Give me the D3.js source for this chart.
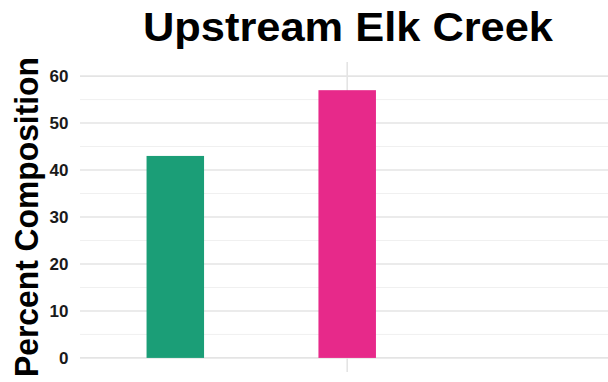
<!DOCTYPE html>
<html>
<head>
<meta charset="utf-8">
<script src="https://cdn.jsdelivr.net/npm/d3@7"></script>
<style>
  html, body { margin: 0; padding: 0; background: #fff; }
  svg { display: block; }
  text { font-family: "Liberation Sans", Arial, sans-serif; }
</style>
</head>
<body>
<svg id="chart" width="608" height="382"></svg>
<script>
// Composition of the two groups at the upstream site
const categories = ["Group A", "Group B"];
const values = [43, 57];
const colors = ["#1b9e77", "#e7298a"];
const yTicks = [0, 10, 20, 30, 40, 50, 60];
const yMinor = [5, 15, 25, 35, 45, 55];
const titleText = "Upstream Elk Creek";
const yLabel = "Percent Composition";

const W = 608, H = 382;
const panel = { left: 80, right: 608, top: 62, bottom: 372 };

const svg = d3.select("#chart");

const y = d3.scaleLinear()
  .domain([-3, 63])
  .range([panel.bottom, panel.top]);

const x = d3.scalePoint()
  .domain(categories)
  .range([175.3, 347.2]);

const barWidth = 57.5;

// minor grid
svg.append("g")
  .selectAll("line")
  .data(yMinor)
  .join("line")
  .attr("x1", panel.left).attr("x2", panel.right)
  .attr("y1", d => y(d)).attr("y2", d => y(d))
  .attr("stroke", "#f0f0f0")
  .attr("stroke-width", 1);

// major grid
svg.append("g")
  .selectAll("line")
  .data(yTicks)
  .join("line")
  .attr("x1", panel.left).attr("x2", panel.right)
  .attr("y1", d => y(d)).attr("y2", d => y(d))
  .attr("stroke", "#e4e4e4")
  .attr("stroke-width", 1.6);

// vertical grid line
svg.append("line")
  .attr("x1", x(categories[1])).attr("x2", x(categories[1]))
  .attr("y1", panel.top).attr("y2", panel.bottom)
  .attr("stroke", "#e4e4e4")
  .attr("stroke-width", 1.6);

// bars
svg.append("g")
  .selectAll("rect")
  .data(values)
  .join("rect")
  .attr("x", (d, i) => x(categories[i]) - barWidth / 2)
  .attr("width", barWidth)
  .attr("y", d => y(d))
  .attr("height", d => y(0) - y(d))
  .attr("fill", (d, i) => colors[i]);

// y axis tick labels
svg.append("g")
  .selectAll("text")
  .data(yTicks)
  .join("text")
  .attr("x", 68.5)
  .attr("y", d => y(d))
  .attr("dy", "0.36em")
  .attr("text-anchor", "end")
  .attr("font-size", 17)
  .attr("font-weight", "bold")
  .attr("fill", "#1a1a1a")
  .text(d => d);

// y axis title
svg.append("text")
  .attr("transform", `translate(37.5, 217) rotate(-90)`)
  .attr("text-anchor", "middle")
  .attr("font-size", 33)
  .attr("font-weight", "bold")
  .attr("fill", "#000")
  .attr("textLength", 320)
  .attr("lengthAdjust", "spacingAndGlyphs")
  .text(yLabel);

// chart title
svg.append("text")
  .attr("x", 348)
  .attr("y", 41)
  .attr("text-anchor", "middle")
  .attr("font-size", 41)
  .attr("font-weight", "bold")
  .attr("fill", "#000")
  .attr("textLength", 410)
  .attr("lengthAdjust", "spacingAndGlyphs")
  .text(titleText);
</script>
</body>
</html>
